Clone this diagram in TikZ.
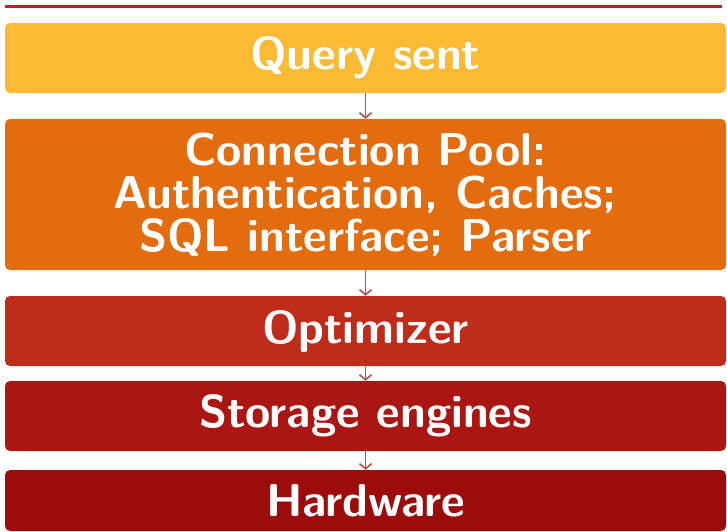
\documentclass[tikz,border=0pt]{standalone}
\usepackage{xcolor}
\usepackage{tikz}
\usetikzlibrary{positioning, arrows.meta}
\definecolor{ruleRed}{HTML}{C02020}
\definecolor{flowRed}{HTML}{C0504D}
\definecolor{lyQuery}{HTML}{FBBA33}
\definecolor{lyPool}{HTML}{E26C0E}
\definecolor{lyOpt}{HTML}{BE2D1A}
\definecolor{lyStore}{HTML}{AA1612}
\definecolor{lyHw}{HTML}{9B0C0B}

\begin{document}
\begin{tikzpicture}[x=1pt, y=-1pt, layer/.style={rounded corners=5pt, text=white, minimum width=721pt, inner sep=0pt, align=center, font=\sffamily\bfseries\fontsize{46}{43}\selectfont}, flow/.style={draw=flowRed, line width=1.7pt, -{Straight Barb[length=5pt, width=12pt]}}]
\useasboundingbox (0,0) rectangle (727,531);
\draw[ruleRed, line width=2.6pt] (5,6.2) -- (722,6.2);
\foreach \n/\y/\h/\col/\txt in {query/58/70/lyQuery/{Query sent},pool/194.5/151/lyPool/{Connection Pool:\\Authentication, Caches;\\SQL interface; Parser},opt/331/70/lyOpt/{Optimizer},store/416/70/lyStore/{Storage engines},hw/500.5/61/lyHw/{Hardware}}
{\node[layer, fill=\col, minimum height=\h pt] (\n) at (365.5,\y) {\txt};}
\foreach \a/\b in {query/pool,pool/opt,opt/store,store/hw}
{\draw[flow] (\a) -- (\b);}
\end{tikzpicture}
\end{document}
